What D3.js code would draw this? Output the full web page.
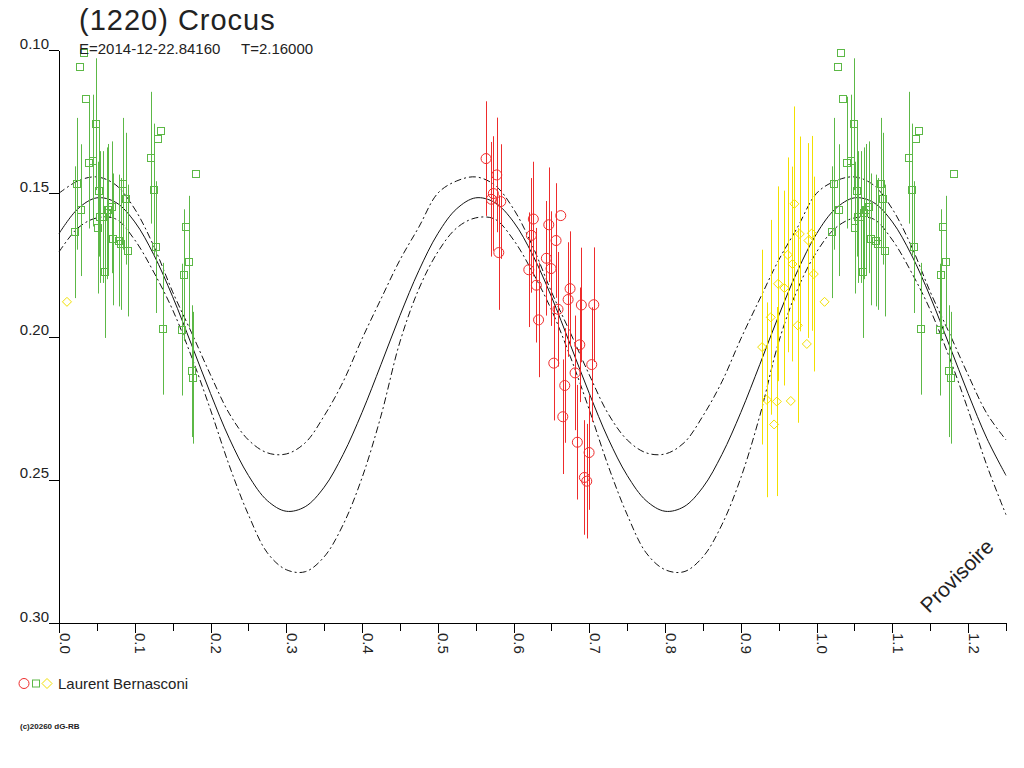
<!DOCTYPE html>
<html>
<head>
<meta charset="utf-8">
<script src="https://cdn.jsdelivr.net/npm/d3@7"></script>
<style>
  body { margin: 0; background: #fff; }
  svg { display: block; font-family: "Liberation Sans", Arial, sans-serif; }
</style>
</head>
<body>
<div id="chart"></div>
<script>
// Lightcurve of (1220) Crocus, phase plot
const chartTitle = '(1220) Crocus';
const epochLabel = 'E=2014-12-22.84160';
const periodLabel = 'T=2.16000';
const observer = 'Laurent Bernasconi';
const copyright = '(c)20260 dG-RB';
const stamp = 'Provisoire';

const xTicksMajor = [0.0, 0.1, 0.2, 0.3, 0.4, 0.5, 0.6, 0.7, 0.8, 0.9, 1.0, 1.1, 1.2];
const xTicksMinor = [0.05, 0.15, 0.25, 0.35, 0.45, 0.55, 0.65, 0.75, 0.85, 0.95, 1.05, 1.15, 1.25];
const yTicks = [0.10, 0.15, 0.20, 0.25, 0.30];

// session 1 (red circles)
const redPhase = [0.5637, 0.5778, 0.5733, 0.5707, 0.5831, 0.5805, 0.6623, 0.6261, 0.6465, 0.6235,
  0.6561, 0.6433, 0.6495, 0.6201, 0.6301, 0.6746, 0.6720, 0.6895, 0.7059, 0.6587,
  0.6330, 0.6874, 0.7032, 0.6531, 0.6812, 0.6676, 0.6650, 0.6842, 0.6997, 0.6935, 0.6966];
const redMag = [0.1379, 0.1436, 0.1501, 0.1521, 0.1529, 0.1707, 0.1578, 0.1590, 0.1610, 0.1647,
  0.1665, 0.1727, 0.1763, 0.1767, 0.1821, 0.1833, 0.1871, 0.1890, 0.1889, 0.1905,
  0.1942, 0.2029, 0.2098, 0.2093, 0.2127, 0.2171, 0.2280, 0.2369, 0.2405, 0.2492, 0.2505];
const redErr = [0.020, 0.020, 0.020, 0.020, 0.020, 0.020, 0, 0.020, 0.020, 0.020,
  0.020, 0.020, 0.020, 0.020, 0.020, 0.020, 0.020, 0.020, 0.020, 0.020,
  0.020, 0.020, 0.020, 0.020, 0.020, 0.020, 0.020, 0.020, 0.020, 0.020, 0.020];

// session 2 (green squares)
const greenPhase = [0.0326, 0.0277, 0.0352, 0.0488, 0.1347, 0.1311, 0.1218, 0.1813, 0.0449, 0.0396,
  0.0234, 0.0845, 0.1254, 0.0532, 0.0881, 0.0696, 0.0294, 0.0651, 0.0630, 0.0581,
  0.0541, 0.0511, 0.0207, 0.0717, 0.0788, 0.0815, 0.0907, 0.1283, 0.1673, 0.1712,
  0.1646, 0.0607, 0.1373, 0.1628, 0.1752, 0.1773];
const greenMag = [0.1012, 0.1058, 0.1172, 0.1259, 0.1282, 0.1309, 0.1376, 0.1434, 0.1386, 0.1393,
  0.1467, 0.1467, 0.1487, 0.1491, 0.1519, 0.1549, 0.1559, 0.1558, 0.1570, 0.1583,
  0.1583, 0.1620, 0.1636, 0.1661, 0.1665, 0.1677, 0.1700, 0.1688, 0.1617, 0.1739,
  0.1786, 0.1775, 0.1973, 0.1976, 0.2121, 0.2144];
const greenErr = [0, 0, 0, 0.023, 0, 0, 0.023, 0, 0.023, 0.023,
  0.023, 0.023, 0.023, 0.023, 0.023, 0.023, 0.023, 0.023, 0.023, 0.023,
  0.023, 0.023, 0.023, 0.023, 0.023, 0.023, 0.023, 0.023, 0, 0.023,
  0.023, 0.023, 0.023, 0.023, 0.023, 0.023];

// session 3 (yellow diamonds)
const yellowPhase = [0.9707, 0.9778, 0.9937, 0.9892, 0.9620, 0.9681, 0.9963, 0.9492, 0.9575, 0.0105,
  0.9395, 0.9752, 0.9281, 0.9871, 0.9343, 0.9475, 0.9659, 0.9439];
const yellowMag = [0.1537, 0.1642, 0.1640, 0.1665, 0.1715, 0.1747, 0.1782, 0.1816, 0.1831, 0.1879,
  0.1933, 0.1961, 0.2037, 0.2026, 0.2221, 0.2227, 0.2225, 0.2307];
const yellowErr = [0.034, 0.034, 0.034, 0.034, 0.034, 0.034, 0.034, 0.034, 0.034, 0,
  0.034, 0.034, 0.034, 0, 0.034, 0.033, 0, 0];

// fitted lightcurve and its envelope
const fitPhase = [0.000, 0.025, 0.050, 0.075, 0.100, 0.125, 0.150, 0.175, 0.200, 0.225,
  0.250, 0.275, 0.300, 0.325, 0.350, 0.375, 0.400, 0.425, 0.450, 0.475,
  0.500, 0.525, 0.550, 0.575, 0.600, 0.625, 0.650, 0.675, 0.700, 0.725,
  0.750, 0.775, 0.800, 0.825, 0.850, 0.875, 0.900, 0.925, 0.950, 0.975,
  1.000, 1.025, 1.050, 1.075, 1.100, 1.125, 1.150, 1.175, 1.200, 1.225, 1.250];
const fitMid = [0.1641, 0.1554, 0.1516, 0.1532, 0.1600, 0.1714, 0.1861, 0.2029, 0.2199, 0.2357,
  0.2485, 0.2573, 0.2610, 0.2594, 0.2526, 0.2412, 0.2265, 0.2098, 0.1927, 0.1770,
  0.1641, 0.1554, 0.1516, 0.1532, 0.1600, 0.1714, 0.1861, 0.2029, 0.2199, 0.2357,
  0.2485, 0.2573, 0.2610, 0.2594, 0.2526, 0.2412, 0.2265, 0.2098, 0.1927, 0.1770,
  0.1641, 0.1554, 0.1516, 0.1532, 0.1600, 0.1714, 0.1861, 0.2029, 0.2199, 0.2357, 0.2485];
const fitUpper = [0.1500, 0.1457, 0.1443, 0.1471, 0.1555, 0.1684, 0.1844, 0.1987, 0.2134, 0.2270,
  0.2361, 0.2406, 0.2410, 0.2371, 0.2277, 0.2158, 0.2008, 0.1869, 0.1733, 0.1618,
  0.1500, 0.1457, 0.1443, 0.1471, 0.1555, 0.1684, 0.1844, 0.1987, 0.2134, 0.2270,
  0.2361, 0.2406, 0.2410, 0.2371, 0.2277, 0.2158, 0.2008, 0.1869, 0.1733, 0.1618,
  0.1500, 0.1457, 0.1443, 0.1471, 0.1555, 0.1684, 0.1844, 0.1987, 0.2134, 0.2270, 0.2361];
const fitLower = [0.1705, 0.1621, 0.1586, 0.1590, 0.1663, 0.1775, 0.1907, 0.2071, 0.2256, 0.2452,
  0.2622, 0.2755, 0.2814, 0.2821, 0.2769, 0.2657, 0.2493, 0.2277, 0.2019, 0.1834,
  0.1705, 0.1621, 0.1586, 0.1590, 0.1663, 0.1775, 0.1907, 0.2071, 0.2256, 0.2452,
  0.2622, 0.2755, 0.2814, 0.2821, 0.2769, 0.2657, 0.2493, 0.2277, 0.2019, 0.1834,
  0.1705, 0.1621, 0.1586, 0.1590, 0.1663, 0.1775, 0.1907, 0.2071, 0.2256, 0.2452, 0.2622];

class PhaseChart {
    constructor(containerId) {
        this.containerId = containerId;
        this.width = 1024;
        this.height = 768;
        this.colors = { red: '#ee2c2c', green: '#5cb846', yellow: '#f2e000', ink: '#222' };
    }

    init() {
        this.svg = d3.select(`#${this.containerId}`)
            .append('svg')
            .attr('width', this.width)
            .attr('height', this.height);

        this.x = d3.scaleLinear().domain([0, 1.25]).range([59, 1006]);
        this.y = d3.scaleLinear().domain([0.10, 0.30]).range([50, 623]);
    }

    // phases below 0.25 are repeated one cycle later
    series(phase, mag, err) {
        const pts = phase.map((p, i) => ({ phase: p, mag: mag[i], err: err[i] }));
        const extra = pts.filter(d => d.phase < 0.25).map(d => ({ ...d, phase: d.phase + 1 }));
        return pts.concat(extra);
    }

    render() {
        const svg = this.svg, x = this.x, y = this.y, c = this.colors;

        svg.append('rect').attr('width', this.width).attr('height', this.height).attr('fill', '#fff');

        // axes
        const xMinor = svg.append('g')
            .attr('transform', 'translate(0,623)')
            .call(d3.axisBottom(x).tickValues(xTicksMinor).tickSize(8).tickSizeOuter(0).tickFormat(''));
        const xMajor = svg.append('g')
            .attr('transform', 'translate(0,623)')
            .call(d3.axisBottom(x).tickValues(xTicksMajor).tickSize(10).tickSizeOuter(0).tickFormat(d3.format('.1f')));
        xMajor.selectAll('text')
            .attr('transform', 'rotate(90)')
            .attr('x', 10)
            .attr('y', 0)
            .attr('dy', 0)
            .style('text-anchor', 'start')
            .style('font-size', '15px')
            .style('fill', c.ink);

        const yAxis = svg.append('g')
            .attr('transform', 'translate(59,0)')
            .call(d3.axisLeft(y).tickValues(yTicks).tickSize(10).tickSizeOuter(0).tickFormat(d3.format('.2f')));
        yAxis.selectAll('text')
            .attr('x', -10)
            .attr('y', -2)
            .attr('dy', 0)
            .style('text-anchor', 'end')
            .style('font-size', '15px')
            .style('fill', c.ink);

        [xMinor, xMajor, yAxis].forEach(g => {
            g.selectAll('path, line').attr('stroke', '#000').attr('shape-rendering', 'crispEdges');
            g.select('.domain').attr('stroke', '#000');
        });

        // fitted curve and envelope
        const line = vals => d3.line()
            .x((d, i) => x(fitPhase[i]))
            .y(d => y(d))
            .curve(d3.curveCatmullRom.alpha(0.5))(vals);

        svg.append('path').attr('d', line(fitUpper))
            .attr('fill', 'none').attr('stroke', '#111').attr('stroke-width', 1)
            .attr('stroke-dasharray', '7,3,2,3');
        svg.append('path').attr('d', line(fitLower))
            .attr('fill', 'none').attr('stroke', '#111').attr('stroke-width', 1)
            .attr('stroke-dasharray', '7,3,2,3');
        svg.append('path').attr('d', line(fitMid))
            .attr('fill', 'none').attr('stroke', '#111').attr('stroke-width', 1);

        const sets = [
            { data: this.series(greenPhase, greenMag, greenErr), color: c.green, shape: 'square' },
            { data: this.series(yellowPhase, yellowMag, yellowErr), color: c.yellow, shape: 'diamond' },
            { data: this.series(redPhase, redMag, redErr), color: c.red, shape: 'circle' }
        ];

        sets.forEach(s => {
            const g = svg.append('g');
            g.selectAll('line')
                .data(s.data.filter(d => d.err > 0))
                .enter()
                .append('line')
                .attr('x1', d => Math.round(x(d.phase)) + 0.5)
                .attr('x2', d => Math.round(x(d.phase)) + 0.5)
                .attr('y1', d => y(d.mag - d.err))
                .attr('y2', d => y(d.mag + d.err))
                .attr('stroke', s.color)
                .attr('stroke-width', 1);
            this.marker(g, s.data, s.shape, s.color);
        });

        // title block
        svg.append('text').attr('x', 79).attr('y', 29.5)
            .style('font-size', '29px').style('letter-spacing', '1px').style('fill', c.ink)
            .text(chartTitle);
        svg.append('text').attr('x', 79).attr('y', 54)
            .style('font-size', '15px').style('fill', c.ink).text(epochLabel);
        svg.append('text').attr('x', 241).attr('y', 54)
            .style('font-size', '15px').style('fill', c.ink).text(periodLabel);

        // legend
        svg.append('circle').attr('cx', 24).attr('cy', 683.5).attr('r', 5)
            .attr('fill', 'none').attr('stroke', c.red);
        svg.append('rect').attr('x', 32.5).attr('y', 680).attr('width', 7).attr('height', 7)
            .attr('fill', 'none').attr('stroke', c.green);
        svg.append('path').attr('d', 'M47,678.5L52,683.5L47,688.5L42,683.5Z')
            .attr('fill', 'none').attr('stroke', c.yellow);
        svg.append('text').attr('x', 58).attr('y', 688.5)
            .style('font-size', '15px').style('fill', c.ink).text(observer);

        svg.append('text').attr('x', 20).attr('y', 729)
            .style('font-size', '8px').style('font-weight', 'bold').style('fill', c.ink)
            .text(copyright);

        svg.append('text')
            .attr('transform', 'translate(929,614) rotate(-45)')
            .style('font-size', '21px').style('fill', c.ink)
            .text(stamp);
    }

    marker(g, data, shape, color) {
        const x = this.x, y = this.y;
        if (shape === 'circle') {
            g.selectAll('circle').data(data).enter().append('circle')
                .attr('cx', d => x(d.phase)).attr('cy', d => y(d.mag)).attr('r', 5)
                .attr('fill', 'none').attr('stroke', color);
        } else if (shape === 'square') {
            g.selectAll('rect').data(data).enter().append('rect')
                .attr('x', d => Math.round(x(d.phase)) - 3.5).attr('y', d => Math.round(y(d.mag)) - 3.5)
                .attr('width', 7).attr('height', 7)
                .attr('fill', 'none').attr('stroke', color);
        } else {
            g.selectAll('path').data(data).enter().append('path')
                .attr('transform', d => `translate(${x(d.phase)},${y(d.mag)})`)
                .attr('d', 'M0,-4.5L4.5,0L0,4.5L-4.5,0Z')
                .attr('fill', 'none').attr('stroke', color);
        }
    }
}

const chart = new PhaseChart('chart');
chart.init();
chart.render();
</script>
</body>
</html>
